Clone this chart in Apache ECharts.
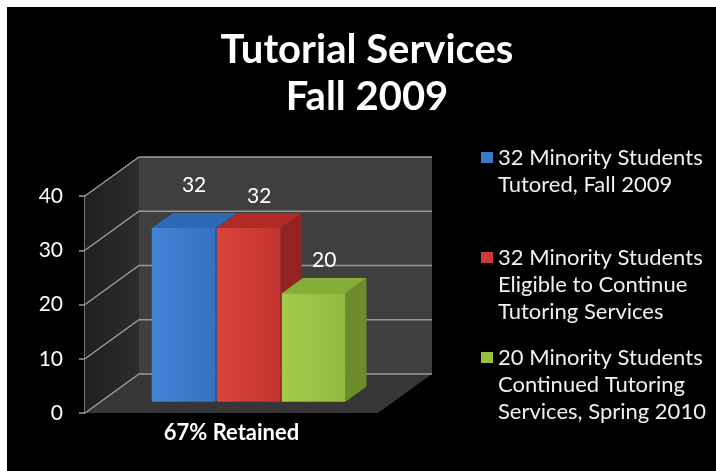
<!DOCTYPE html>
<html>
<head>
<meta charset="utf-8">
<script src="https://cdn.jsdelivr.net/npm/echarts@6/dist/echarts.min.js"></script>
<style>
  html, body { margin: 0; padding: 0; background: #ffffff; }
  #frame { position: relative; width: 716px; height: 471px; background: #ffffff; overflow: hidden; }
  #chart { position: absolute; left: 7px; top: 7px; width: 709px; height: 464px; background: #000000; }
</style>
</head>
<body>
<div id="frame"><div id="chart"></div></div>
<script>
// ---- data ----
const categories = ['67% Retained'];
const seriesNames = [
  '32 Minority Students\nTutored, Fall 2009',
  '32 Minority Students\nEligible to Continue\nTutoring Services',
  '20 Minority Students\nContinued Tutoring\nServices, Spring 2010'
];
const values = [32, 32, 20];
const yTicks = [0, 10, 20, 30, 40];

// ---- look ----
const FONT = 'Lato, "Open Sans", sans-serif';
const DX = 54, DY = -39;          // depth vector of the 3D box
const D0 = 0.29, D1 = 0.68;       // bar depth range inside the box
const BAR_FRAC = 0.217, GAP_FRAC = 0.005, GROUP_SHIFT = 0.005;
const labelLift = [35, 24, 25];
const faces = [
  { front: ['#4384d6', '#3671c2'], top: '#2f68b6', side: '#24559a', legend: '#3a78c8' },
  { front: ['#d9433c', '#c3342f'], top: '#b02b27', side: '#93231f', legend: '#cc3a35' },
  { front: ['#a4ca4c', '#93ba3d'], top: '#86ad36', side: '#6a8c2a', legend: '#98c043' }
];

function renderBox(params, api) {
  const cs = params.coordSys;
  const gx = cs.x, gy = cs.y, gw = cs.width, gh = cs.height;
  const yb = gy + gh;
  const children = [];
  // left wall
  children.push({ type: 'polygon', shape: { points: [[gx, gy], [gx + DX, gy + DY], [gx + DX, yb + DY], [gx, yb]] },
    style: { fill: { type: 'linear', x: 0, y: 0, x2: 1, y2: 0, colorStops: [{ offset: 0, color: '#202020' }, { offset: 1, color: '#2c2c2c' }] } } });
  // back wall
  children.push({ type: 'rect', shape: { x: gx + DX, y: gy + DY, width: gw, height: gh },
    style: { fill: '#3f3f3f' } });
  // floor
  children.push({ type: 'polygon', shape: { points: [[gx, yb], [gx + gw, yb], [gx + gw + DX, yb + DY], [gx + DX, yb + DY]] },
    style: { fill: '#363636' } });
  // gridlines on the walls
  yTicks.forEach(function (t) {
    const y = api.coord([0, t])[1];
    children.push({ type: 'polyline', shape: { points: [[gx, y], [gx + DX, y + DY], [gx + gw + DX, y + DY]] },
      style: { stroke: '#9a9a9a', lineWidth: 1.5, fill: null } });
  });
  return { type: 'group', children: children };
}

function makeBarRenderer(k) {
  return function (params, api) {
    const base = api.coord([api.value(0), 0]);
    const top = api.coord([api.value(0), api.value(1)]);
    const band = api.size([1, 0])[0];
    const w = band * BAR_FRAC, g = band * GAP_FRAC;
    const groupW = 3 * w + 2 * g;
    const x0 = base[0] + band * GROUP_SHIFT - groupW / 2 + k * (w + g) + D0 * DX;
    const yb = base[1] + D0 * DY;
    const yt = top[1] + D0 * DY;
    const ddx = (D1 - D0) * DX, ddy = (D1 - D0) * DY;
    const f = faces[k];
    return {
      type: 'group',
      children: [
        { type: 'polygon', shape: { points: [[x0 + w, yt], [x0 + w + ddx, yt + ddy], [x0 + w + ddx, yb + ddy], [x0 + w, yb]] },
          style: { fill: f.side } },
        { type: 'polygon', shape: { points: [[x0, yt], [x0 + ddx, yt + ddy], [x0 + w + ddx, yt + ddy], [x0 + w, yt]] },
          style: { fill: f.top } },
        { type: 'rect', shape: { x: x0, y: yt, width: w, height: yb - yt },
          style: { fill: { type: 'linear', x: 0, y: 0, x2: 1, y2: 0, colorStops: [{ offset: 0, color: f.front[0] }, { offset: 1, color: f.front[1] }] } } },
        { type: 'text', x: x0 + w / 2 + ddx / 2, y: yt + ddy / 2 - labelLift[k],
          style: { text: String(api.value(1)), fill: '#ffffff', fontSize: 21, fontFamily: FONT, align: 'center', verticalAlign: 'middle' } }
      ]
    };
  };
}

const chart = echarts.init(document.getElementById('chart'), null, { renderer: 'canvas' });

const series = [{
  type: 'custom', name: 'box', silent: true, z: 1,
  data: [[0, 0]], encode: { x: 0, y: 1 },
  renderItem: renderBox
}];
seriesNames.forEach(function (name, k) {
  series.push({
    type: 'custom', name: name, z: 2 + k,
    data: [[0, values[k]]], encode: { x: 0, y: 1 },
    itemStyle: { color: faces[k].legend },
    renderItem: makeBarRenderer(k)
  });
});

// the marker sits beside the first line of each entry: blank lines in
// front of the name balance the lines that follow it
const legendTops = [105, 178, 278];
const legends = seriesNames.map(function (name, k) {
  const lines = name.split('\n').length;
  return {
    show: true, orient: 'vertical', left: 469, top: legendTops[k],
    data: [name], icon: 'rect', itemWidth: 12, itemHeight: 11, selectedMode: false,
    formatter: function (n) { return '\n'.repeat(lines - 1) + n; },
    textStyle: { color: '#f0f0f0', fontSize: 22, fontFamily: FONT, lineHeight: 27 }
  };
});

chart.setOption({
  backgroundColor: '#000000',
  animation: false,
  title: {
    text: 'Tutorial Services\nFall 2009',
    left: 360, top: 20, padding: 0,
    textAlign: 'center',
    textStyle: { color: '#ffffff', fontSize: 40, fontWeight: 'bold', fontFamily: FONT, lineHeight: 47 }
  },
  legend: legends,
  grid: { left: 78, top: 189, right: 338, bottom: 58 },
  xAxis: {
    type: 'category', data: categories,
    axisLine: { show: false }, axisTick: { show: false },
    axisLabel: { color: '#ffffff', fontSize: 22, fontWeight: 'bold', fontFamily: FONT, margin: 9 }
  },
  yAxis: {
    type: 'value', min: 0, max: 40, interval: 10,
    axisLine: { show: true, lineStyle: { color: '#9a9a9a', width: 1.5 } },
    axisTick: { show: true, length: 6, lineStyle: { color: '#9a9a9a', width: 1.5 } },
    splitLine: { show: false },
    axisLabel: { color: '#ffffff', fontSize: 21, fontFamily: FONT, margin: 22 }
  },
  series: series
});
</script>
</body>
</html>
